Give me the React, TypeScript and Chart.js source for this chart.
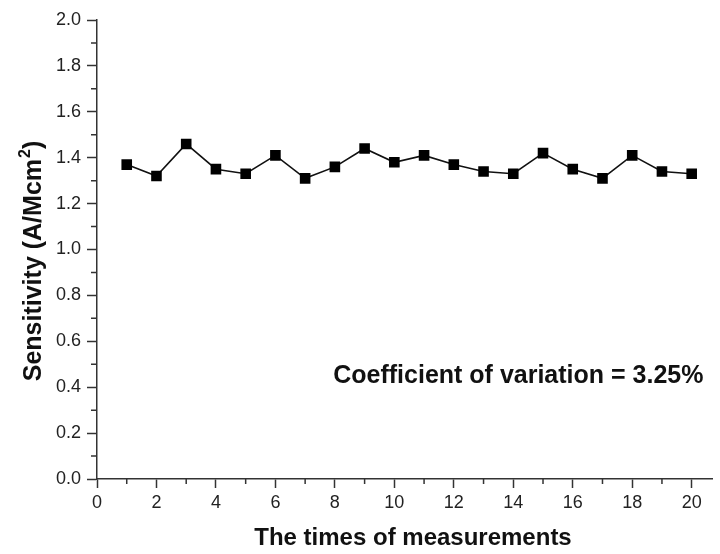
import React, { useEffect, useRef } from "react";
import { Chart, registerables } from "chart.js";

Chart.register(...registerables);

const measurementTimes = [1, 2, 3, 4, 5, 6, 7, 8, 9, 10, 11, 12, 13, 14, 15, 16, 17, 18, 19, 20];
const sensitivity = [1.37, 1.32, 1.46, 1.35, 1.33, 1.41, 1.31, 1.36, 1.44, 1.38, 1.41, 1.37, 1.34, 1.33, 1.42, 1.35, 1.31, 1.41, 1.34, 1.33];
const xMinorTicks = [1, 3, 5, 7, 9, 11, 13, 15, 17, 19];
const yMinorTicks = [0.1, 0.3, 0.5, 0.7, 0.9, 1.1, 1.3, 1.5, 1.7, 1.9];
const annotationText = "Coefficient of variation = 3.25%";
const xTitle = "The times of measurements";
const yTitleMain = "Sensitivity (A/Mcm";
const yTitleSup = "2";
const yTitleEnd = ")";

const FONT = "'Liberation Sans', Arial, Helvetica, sans-serif";
const AXIS = "#333333";

const decorPlugin = {
  id: "decor",
  afterDraw(chart: any) {
    const ctx = chart.ctx;
    const xs = chart.scales.x;
    const ys = chart.scales.y;
    const area = chart.chartArea;
    ctx.save();
    ctx.strokeStyle = AXIS;
    ctx.lineWidth = 1.5;
    ctx.beginPath();
    for (const v of xMinorTicks) {
      const px = xs.getPixelForValue(v);
      ctx.moveTo(px, area.bottom);
      ctx.lineTo(px, area.bottom + 5);
    }
    for (const v of yMinorTicks) {
      const py = ys.getPixelForValue(v);
      ctx.moveTo(area.left, py);
      ctx.lineTo(area.left - 6, py);
    }
    ctx.stroke();

    // annotation text
    ctx.fillStyle = "#111111";
    ctx.font = `bold 25px ${FONT}`;
    ctx.textAlign = "center";
    ctx.textBaseline = "middle";
    ctx.fillText(annotationText, xs.getPixelForValue(14.17), ys.getPixelForValue(0.448));

    // x title
    ctx.font = `bold 24px ${FONT}`;
    ctx.textBaseline = "middle";
    ctx.fillText(xTitle, 413, 538);

    // y title with superscript
    const mainFont = `bold 25px ${FONT}`;
    const supFont = `bold 16px ${FONT}`;
    ctx.font = mainFont;
    const w1 = ctx.measureText(yTitleMain).width;
    const w3 = ctx.measureText(yTitleEnd).width;
    ctx.font = supFont;
    const w2 = ctx.measureText(yTitleSup).width;
    const total = w1 + w2 + w3 + 1;
    ctx.translate(32, 261);
    ctx.rotate(-Math.PI / 2);
    ctx.textAlign = "left";
    ctx.textBaseline = "alphabetic";
    let x = -total / 2;
    const base = 9;
    ctx.font = mainFont;
    ctx.fillText(yTitleMain, x, base);
    x += w1 + 1;
    ctx.font = supFont;
    ctx.fillText(yTitleSup, x, base - 11);
    x += w2;
    ctx.font = mainFont;
    ctx.fillText(yTitleEnd, x, base);
    ctx.restore();
  },
};

export default function App() {
  const ref = useRef<HTMLCanvasElement | null>(null);
  useEffect(() => {
    document.body.style.margin = "0";
    const canvas = ref.current;
    if (!canvas) return;
    const chart = new Chart(canvas, {
      type: "line",
      data: {
        datasets: [
          {
            data: measurementTimes.map((t, i) => ({ x: t, y: sensitivity[i] })),
            borderColor: "#111111",
            backgroundColor: "#000000",
            borderWidth: 1.6,
            pointStyle: "rect",
            pointRadius: 7.5,
            pointBorderWidth: 0,
            pointBackgroundColor: "#000000",
            tension: 0,
          },
        ],
      },
      options: {
        responsive: false,
        animation: false,
        events: [],
        layout: { padding: { left: 0, top: 20, right: 3, bottom: 0 } },
        plugins: { legend: { display: false }, tooltip: { enabled: false } },
        scales: {
          x: {
            type: "linear",
            min: 0,
            max: 20.7,
            afterFit: (s: any) => {
              s.height = 75;
            },
            ticks: {
              stepSize: 2,
              includeBounds: false,
              color: "#222222",
              font: { family: FONT, size: 18 },
              padding: 4,
              maxRotation: 0,
            },
            grid: { drawOnChartArea: false, drawTicks: true, tickLength: 9, tickColor: AXIS, tickWidth: 1.5 },
            border: { display: true, color: AXIS, width: 1.5 },
          },
          y: {
            min: 0,
            max: 2.0,
            afterFit: (s: any) => {
              s.width = 97;
            },
            ticks: {
              stepSize: 0.2,
              color: "#222222",
              font: { family: FONT, size: 18 },
              padding: 6,
              callback: (v: any) => Number(v).toFixed(1),
            },
            grid: { drawOnChartArea: false, drawTicks: true, tickLength: 10, tickColor: AXIS, tickWidth: 1.5 },
            border: { display: true, color: AXIS, width: 1.5 },
          },
        },
      },
      plugins: [decorPlugin],
    } as any);
    return () => chart.destroy();
  }, []);
  return (
    <div style={{ width: 720, height: 554, background: "#ffffff" }}>
      <canvas ref={ref} width={720} height={554} style={{ display: "block" }} />
    </div>
  );
}
